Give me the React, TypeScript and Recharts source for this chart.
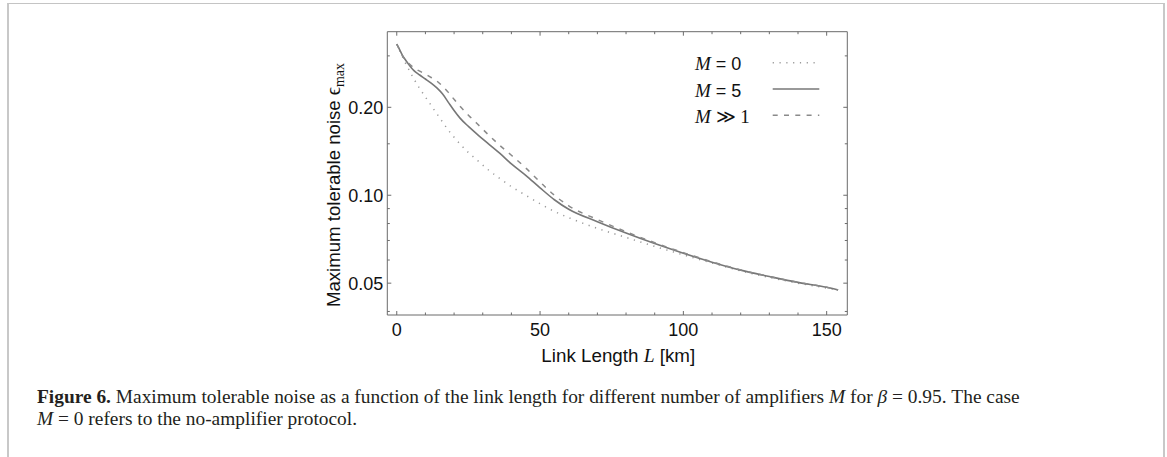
import React from 'react';
import { LineChart, Line, XAxis, YAxis, Legend } from 'recharts';

// Link length L in km (shared sampling grid for all curves)
const lengthKm = [
  0, 1, 2, 3, 4, 6, 8, 10, 12, 14, 16, 18, 20, 22, 25, 28, 32, 36, 40, 45, 50,
  55, 60, 70, 80, 90, 100, 110, 120, 130, 140, 150, 154,
];

// Maximum tolerable noise, no amplifiers (M = 0)
const noiseM0 = [
  0.329, 0.312, 0.298, 0.284, 0.272, 0.25, 0.232, 0.217, 0.203, 0.19, 0.178,
  0.167, 0.158, 0.15, 0.14, 0.132, 0.122, 0.114, 0.107, 0.1, 0.0935, 0.088,
  0.0838, 0.077, 0.0717, 0.0668, 0.0625, 0.0586, 0.0551, 0.0523, 0.05, 0.0481,
  0.0473,
];

// Maximum tolerable noise, five amplifiers (M = 5)
const noiseM5 = [
  0.329, 0.315, 0.301, 0.291, 0.282, 0.267, 0.258, 0.25, 0.242, 0.233, 0.222,
  0.208, 0.195, 0.184, 0.172, 0.162, 0.15, 0.139, 0.128, 0.117, 0.106, 0.0965,
  0.0895, 0.0812, 0.0742, 0.0683, 0.0633, 0.059, 0.0554, 0.0527, 0.0503, 0.0484,
  0.0474,
];

// Maximum tolerable noise, many amplifiers (M >> 1)
const noiseMInf = [
  0.329, 0.314, 0.3, 0.291, 0.284, 0.273, 0.266, 0.26, 0.253, 0.246, 0.236,
  0.225, 0.213, 0.202, 0.188, 0.176, 0.161, 0.148, 0.137, 0.124, 0.111, 0.1,
  0.092, 0.0826, 0.075, 0.0688, 0.0636, 0.0592, 0.0555, 0.0527, 0.0503, 0.0484,
  0.0474,
];

const xTickValues = [0, 10, 20, 30, 40, 50, 60, 70, 80, 90, 100, 110, 120, 130, 140, 150];
const xMajorTicks = [0, 50, 100, 150];
const yTickValues = [0.04, 0.05, 0.06, 0.07, 0.08, 0.09, 0.1, 0.15, 0.2, 0.3];
const yMajorTicks = [0.05, 0.1, 0.2];

const rows = lengthKm.map((L, i) => ({
  L,
  m0: noiseM0[i],
  m5: noiseM5[i],
  mInf: noiseMInf[i],
}));

const AXIS = '#6b6b6b';
const SANS = '"Liberation Sans", Arial, sans-serif';
const SERIF = '"Liberation Serif", "DejaVu Serif", "Times New Roman", serif';
const MAJOR_LEN = 4;
const MINOR_LEN = 2.5;

const isMajorX = (v: number) => xMajorTicks.includes(v);
const isMajorY = (v: number) => yMajorTicks.some((m) => Math.abs(m - v) < 1e-9);

const BottomTick = (p: any) => {
  const { x, y, payload } = p;
  const major = isMajorX(payload.value);
  return (
    <g>
      <line x1={x} x2={x} y1={y} y2={y - (major ? MAJOR_LEN : MINOR_LEN)} stroke={AXIS} strokeWidth={1} />
      {major && (
        <text x={x} y={y + 21} textAnchor="middle" fontSize={18} fontFamily={SANS} fill="#111">
          {payload.value}
        </text>
      )}
    </g>
  );
};

const TopTick = (p: any) => {
  const { x, y, payload } = p;
  const major = isMajorX(payload.value);
  return <line x1={x} x2={x} y1={y} y2={y + (major ? MAJOR_LEN : MINOR_LEN)} stroke={AXIS} strokeWidth={1} />;
};

const LeftTick = (p: any) => {
  const { x, y, payload } = p;
  const major = isMajorY(payload.value);
  return (
    <g>
      <line x1={x} x2={x + (major ? MAJOR_LEN : MINOR_LEN)} y1={y} y2={y} stroke={AXIS} strokeWidth={1} />
      {major && (
        <text x={x - 4} y={y} dy="0.36em" textAnchor="end" fontSize={18} fontFamily={SANS} fill="#111">
          {Number(payload.value).toFixed(2)}
        </text>
      )}
    </g>
  );
};

const RightTick = (p: any) => {
  const { x, y, payload } = p;
  const major = isMajorY(payload.value);
  return <line x1={x} x2={x - (major ? MAJOR_LEN : MINOR_LEN)} y1={y} y2={y} stroke={AXIS} strokeWidth={1} />;
};

const XTitle = (p: any) => {
  const vb = p.viewBox;
  const cx = vb.x + vb.width / 2 + 1;
  const baseline = vb.y + 47;
  return (
    <text x={cx} y={baseline} textAnchor="middle" fontSize={18.8} fontFamily={SANS} fill="#111">
      <tspan>Link Length </tspan>
      <tspan fontFamily={SERIF} fontStyle="italic" fontSize={19.5}>L</tspan>
      <tspan> [km]</tspan>
    </text>
  );
};

const YTitle = (p: any) => {
  const vb = p.viewBox;
  const bx = vb.x - 46;
  const startY = vb.y + vb.height - 8;
  return (
    <text
      x={bx}
      y={startY}
      transform={`rotate(-90, ${bx}, ${startY})`}
      textAnchor="start"
      fontSize={18.6}
      fontFamily={SANS}
      fill="#111"
    >
      <tspan>Maximum tolerable noise </tspan>
      <tspan fontFamily={SERIF} fontSize={20}>ϵ</tspan>
      <tspan fontFamily={SERIF} fontSize={14} dy={4}>max</tspan>
    </text>
  );
};

const LegendBox = (props: any) => {
  const items = props.payload || [];
  return (
    <svg width={150} height={90} style={{ overflow: 'visible' }}>
      {items.map((it: any, i: number) => {
        const name: string = String(it.value);
        const rest = name.slice(1);
        const restSerif = rest.includes('≫');
        const base = 25.2 + i * 26.3;
        const lineY = base - 7.5;
        const lp = it.payload || {};
        return (
          <g key={name}>
            <text x={5} y={base} fontSize={18} fill="#111">
              <tspan fontFamily={SERIF} fontStyle="italic" fontSize={19}>M</tspan>
              <tspan fontFamily={restSerif ? SERIF : SANS} fontSize={restSerif ? 19 : 18}>{rest}</tspan>
            </text>
            <line
              x1={82.7}
              x2={129.3}
              y1={lineY}
              y2={lineY}
              stroke={it.color}
              strokeWidth={lp.strokeWidth || 1.5}
              strokeDasharray={lp.strokeDasharray}
            />
          </g>
        );
      })}
    </svg>
  );
};

export default function App() {
  return (
    <div style={{ position: 'absolute', left: 0, top: 0, width: 1167, height: 457, background: '#fff', overflow: 'hidden' }}>
      {/* figure frame */}
      <div
        style={{
          position: 'absolute',
          left: 7,
          top: 3,
          width: 1154,
          height: 470,
          borderTop: '1.5px solid #c4c4c4',
          borderLeft: '2px solid #c8c8c8',
          borderRight: '2px solid #c8c8c8',
        }}
      />
      <div style={{ position: 'absolute', left: 0, top: 0 }}>
        <LineChart
          width={1167}
          height={457}
          data={rows}
          margin={{ top: 30.7, right: 318.7, bottom: 141, left: 386.3 }}
        >
          <XAxis
            xAxisId="b"
            dataKey="L"
            type="number"
            domain={[-3.3, 157.2]}
            allowDataOverflow
            ticks={xTickValues}
            interval={0}
            tick={<BottomTick />}
            tickLine={false}
            tickSize={0}
            tickMargin={0}
            height={1}
            stroke={AXIS}
            label={<XTitle />}
          />
          <XAxis
            xAxisId="t"
            orientation="top"
            dataKey="L"
            type="number"
            domain={[-3.3, 157.2]}
            allowDataOverflow
            ticks={xTickValues}
            interval={0}
            tick={<TopTick />}
            tickLine={false}
            tickSize={0}
            tickMargin={0}
            height={1}
            stroke={AXIS}
          />
          <YAxis
            yAxisId="l"
            type="number"
            scale="log"
            domain={[0.0389, 0.363]}
            allowDataOverflow
            ticks={yTickValues}
            interval={0}
            tick={<LeftTick />}
            tickLine={false}
            tickSize={0}
            tickMargin={0}
            width={1}
            stroke={AXIS}
            label={<YTitle />}
          />
          <YAxis
            yAxisId="r"
            orientation="right"
            type="number"
            scale="log"
            domain={[0.0389, 0.363]}
            allowDataOverflow
            ticks={yTickValues}
            interval={0}
            tick={<RightTick />}
            tickLine={false}
            tickSize={0}
            tickMargin={0}
            width={1}
            stroke={AXIS}
          />
          <Legend
            layout="vertical"
            align="center"
            verticalAlign="middle"
            content={<LegendBox />}
            wrapperStyle={{ left: 690, top: 45, width: 150, height: 90 }}
          />
          <Line
            xAxisId="b"
            yAxisId="l"
            dataKey="m0"
            name="M = 0"
            type="monotone"
            stroke="#9a9a9a"
            strokeWidth={1.5}
            strokeDasharray="1.2 5.6"
            dot={false}
            isAnimationActive={false}
          />
          <Line
            xAxisId="b"
            yAxisId="l"
            dataKey="m5"
            name="M = 5"
            type="monotone"
            stroke="#777777"
            strokeWidth={1.6}
            dot={false}
            isAnimationActive={false}
          />
          <Line
            xAxisId="b"
            yAxisId="l"
            dataKey="mInf"
            name="M ≫ 1"
            type="monotone"
            stroke="#8a8a8a"
            strokeWidth={1.5}
            strokeDasharray="5 6.3"
            dot={false}
            isAnimationActive={false}
          />
        </LineChart>
      </div>
      <div
        style={{
          position: 'absolute',
          left: 37,
          top: 386,
          fontFamily: SERIF,
          fontSize: 19.4,
          lineHeight: '22px',
          color: '#231f20',
          whiteSpace: 'nowrap',
        }}
      >
        <b>Figure 6.</b> Maximum tolerable noise as a function of the link length for different number of amplifiers{' '}
        <i>M</i> for <i>β</i> = 0.95. The case
        <br />
        <i>M</i> = 0 refers to the no-amplifier protocol.
      </div>
    </div>
  );
}
